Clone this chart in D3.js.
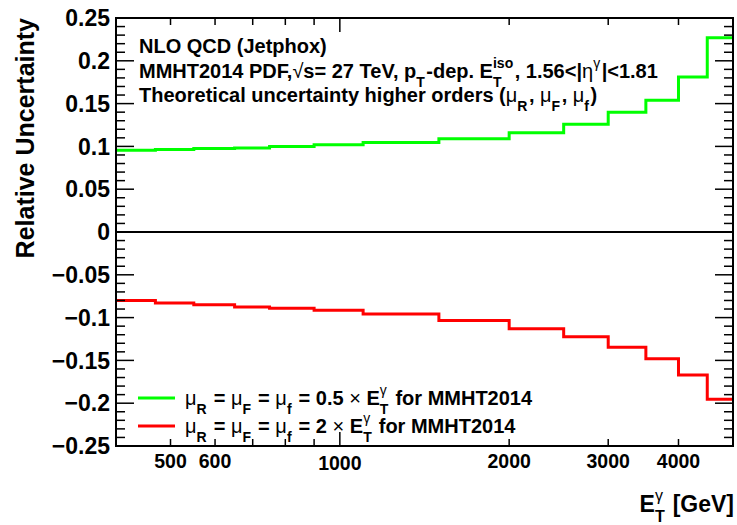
<!DOCTYPE html>
<html>
<head>
<meta charset="utf-8">
<script src="https://cdn.jsdelivr.net/npm/d3@7"></script>
<style>
  body { margin: 0; background: #fff; }
  svg { display: block; font-family: "Liberation Sans", Arial, Helvetica, sans-serif; font-weight: bold; }
  svg text { white-space: pre; }
</style>
</head>
<body>
<div id="chart"></div>
<script>
// bin edges in E_T (GeV) and relative uncertainty per bin
const binEdges = [400, 470, 550, 650, 750, 900, 1100, 1500, 2000, 2500, 3000, 3500, 4000, 4500, 5000];
const upValues = [0.0955, 0.0965, 0.0975, 0.098, 0.100, 0.102, 0.1045, 0.109, 0.116, 0.126, 0.140, 0.154, 0.181, 0.227];
const downValues = [-0.080, -0.083, -0.085, -0.0875, -0.089, -0.0915, -0.0958, -0.1035, -0.113, -0.1225, -0.1345, -0.148, -0.167, -0.1955];

const xTickLabels = [500, 600, 1000, 2000, 3000, 4000];
const xTicks = [500, 600, 700, 800, 900, 1000, 2000, 3000, 4000];
const yTickLabels = [0.25, 0.2, 0.15, 0.1, 0.05, 0, -0.05, -0.1, -0.15, -0.2, -0.25];

const width = 737, height = 525;
const margin = { left: 116, right: 4, top: 18, bottom: 79 };

const svg = d3.select("#chart").append("svg")
    .attr("width", width)
    .attr("height", height);

const x = d3.scaleLog().domain([400, 5000]).range([margin.left, width - margin.right]);
const y = d3.scaleLinear().domain([-0.25, 0.25]).range([height - margin.bottom, margin.top]);

const x0 = x.range()[0], x1 = x.range()[1];
const y0 = y.range()[0], y1 = y.range()[1];

// zero line
svg.append("line")
    .attr("x1", x0).attr("x2", x1)
    .attr("y1", y(0)).attr("y2", y(0))
    .attr("stroke", "#000").attr("stroke-width", 2);

// step histograms
function stepPoints(vals) {
    const pts = vals.map((v, i) => [binEdges[i], v]);
    pts.push([binEdges[binEdges.length - 1], vals[vals.length - 1]]);
    return pts;
}
const stepLine = d3.line()
    .x(d => x(d[0]))
    .y(d => y(d[1]))
    .curve(d3.curveStepAfter);

svg.append("path")
    .attr("d", stepLine(stepPoints(upValues)))
    .attr("fill", "none").attr("stroke", "#00ff00").attr("stroke-width", 3);
svg.append("path")
    .attr("d", stepLine(stepPoints(downValues)))
    .attr("fill", "none").attr("stroke", "#ff0000").attr("stroke-width", 3);

// frame
svg.append("rect")
    .attr("x", x0).attr("y", y1)
    .attr("width", x1 - x0).attr("height", y0 - y1)
    .attr("fill", "none").attr("stroke", "#000").attr("stroke-width", 2);

// y ticks (both sides, inward)
const ticks = svg.append("g").attr("stroke", "#000").attr("stroke-width", 1.5);
d3.range(-25, 26).forEach(k => {
    const v = k / 100;
    const len = (k % 5 === 0) ? 18 : 9;
    ticks.append("line").attr("x1", x0).attr("x2", x0 + len).attr("y1", y(v)).attr("y2", y(v));
    ticks.append("line").attr("x1", x1).attr("x2", x1 - len).attr("y1", y(v)).attr("y2", y(v));
});
// x ticks (top and bottom, inward)
xTicks.forEach(t => {
    const len = t === 1000 ? 14 : 7;
    ticks.append("line").attr("x1", x(t)).attr("x2", x(t)).attr("y1", y0).attr("y2", y0 - len);
    ticks.append("line").attr("x1", x(t)).attr("x2", x(t)).attr("y1", y1).attr("y2", y1 + len);
});

// tick labels
svg.append("g").selectAll("text")
    .data(yTickLabels)
    .enter().append("text")
    .attr("x", x0 - 6)
    .attr("y", d => y(d))
    .attr("dy", "0.36em")
    .attr("text-anchor", "end")
    .attr("font-size", 23)
    .text(d => d3.format("")(d));

svg.append("g").selectAll("text")
    .data(xTickLabels)
    .enter().append("text")
    .attr("x", d => x(d))
    .attr("y", d => d === 1000 ? 470 : 468)
    .attr("text-anchor", "middle")
    .attr("font-size", 19.5)
    .text(d => d);

// rich text helper: strings are bold, {g} greek/symbol (normal), {sub,sup} scripts
function richText(parent, px, py, parts, size, anchorRight) {
    const g = parent.append("g");
    let cx = 0;
    const put = (txt, dx, dy, fs, weight) => {
        const t = g.append("text")
            .attr("x", cx + dx).attr("y", dy)
            .attr("font-size", fs)
            .attr("font-weight", weight)
            .text(txt);
        return t.node().getComputedTextLength();
    };
    parts.forEach(p => {
        if (typeof p === "string") {
            cx += put(p, 0, 0, size, "bold");
        } else if (p.g) {
            cx += put(p.g, 0, 0, size, "normal");
        } else {
            let w = 0;
            if (p.sub) w = Math.max(w, put(p.sub, 0, size * 0.45, size * 0.7, p.subW || "bold"));
            if (p.sup) w = Math.max(w, put(p.sup, 0, -size * 0.5, size * 0.7, p.supW || "bold"));
            cx += w + 1.5;
        }
    });
    g.attr("transform", `translate(${anchorRight ? px - cx : px},${py})`);
    return g;
}

// annotation text
const fs = 20;
richText(svg, 139, 53, ["NLO QCD (Jetphox)"], fs);
richText(svg, 139, 78, ["MMHT2014 PDF,", { g: "\u221A" }, "s= 27 TeV, p", { sub: "T" }, "-dep. E",
    { sub: "T", sup: "iso" }, ", 1.56<|", { g: "\u03B7" }, { sup: "\u03B3", supW: "normal" }, "|<1.81"], fs);
richText(svg, 139, 102, ["Theoretical uncertainty higher orders (", { g: "\u03BC" }, { sub: "R" }, ", ",
    { g: "\u03BC" }, { sub: "F" }, ", ", { g: "\u03BC" }, { sub: "f" }, ")"], fs);

// legend
const legendData = [
    { color: "#00ff00", factor: "0.5" },
    { color: "#ff0000", factor: "2" }
];
legendData.forEach((d, i) => {
    const ly = 398 + i * 28;
    svg.append("line")
        .attr("x1", 138).attr("x2", 175)
        .attr("y1", ly).attr("y2", ly)
        .attr("stroke", d.color).attr("stroke-width", 3);
    richText(svg, 185, ly + 7, [{ g: "\u03BC" }, { sub: "R" }, " = ", { g: "\u03BC" }, { sub: "F" }, " = ",
        { g: "\u03BC" }, { sub: "f" }, " = " + d.factor + " ", { g: "\u00D7" }, " E",
        { sub: "T", sup: "\u03B3", supW: "normal" }, " for MMHT2014"], fs);
});

// axis titles
richText(svg, 734, 512, ["E", { sub: "T", sup: "\u03B3", supW: "normal" }, " [GeV]"], 23, true);

svg.append("text")
    .attr("transform", `translate(34,${y1}) rotate(-90)`)
    .attr("text-anchor", "end")
    .attr("font-size", 25)
    .text("Relative Uncertainty");
</script>
</body>
</html>
